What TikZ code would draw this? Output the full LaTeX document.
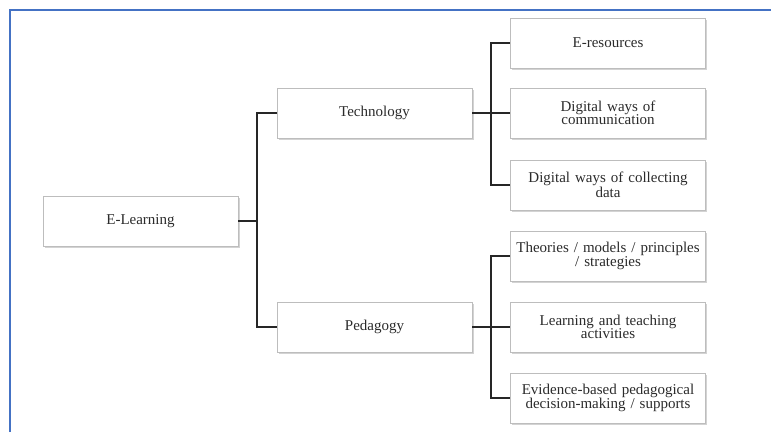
\documentclass[tikz,border=0pt]{standalone}
\usepackage{fontspec}
\setmainfont{Liberation Serif}
\usetikzlibrary{shadows}
\definecolor{framec}{HTML}{4472C4}
\definecolor{boxline}{HTML}{BDBDBD}
\definecolor{txt}{HTML}{2B2B2B}
\tikzset{
  topic/.style={draw=boxline, fill=white, line width=0.8pt, minimum width=195pt,
    minimum height=50pt, inner xsep=0pt, inner ysep=1pt, align=center, text=txt,
    font=\fontsize{15}{13.5}\selectfont, text width=195pt,
    drop shadow={shadow xshift=1.5pt, shadow yshift=-1.5pt, opacity=0.35, fill=gray}},
  link/.style={line width=1.6pt, black!85}
}
\begin{document}
\begin{tikzpicture}[x=1pt,y=-1pt]
      \useasboundingbox (0,0) rectangle (771,432);
      \draw[framec, line width=2pt] (10,432) -- (10,10) -- (771,10);
      \draw
        (140.5,221) node[topic] (el){E-Learning}
        (374.5,113) node[topic] (tech){Technology}
        (374.5,327) node[topic] (ped){Pedagogy}
        (608,43) node[topic] (res){E-resources}
        (608,113) node[topic] (comm){Digital ways of\\communication}
        (608,185) node[topic] (data){Digital ways of collecting\\data}
        (608,256) node[topic] (theo){Theories / models / principles\\/ strategies}
        (608,327) node[topic] (act){Learning and teaching\\activities}
        (608,398) node[topic] (evid){Evidence-based pedagogical\\decision-making / supports};
      \coordinate (j0) at (257,221);
      \coordinate (j1) at (491,113);
      \coordinate (j2) at (491,327);
      \begin{scope}[link]
        \draw (el) to (j0);
        \draw (j0) |- (tech);
        \draw (j0) |- (ped);
        \draw (tech) to (j1);
        \draw (j1) |- (res);
        \draw (j1) to (comm);
        \draw (j1) |- (data);
        \draw (ped) to (j2);
        \draw (j2) |- (theo);
        \draw (j2) to (act);
        \draw (j2) |- (evid);
      \end{scope}
    \end{tikzpicture}
\end{document}
